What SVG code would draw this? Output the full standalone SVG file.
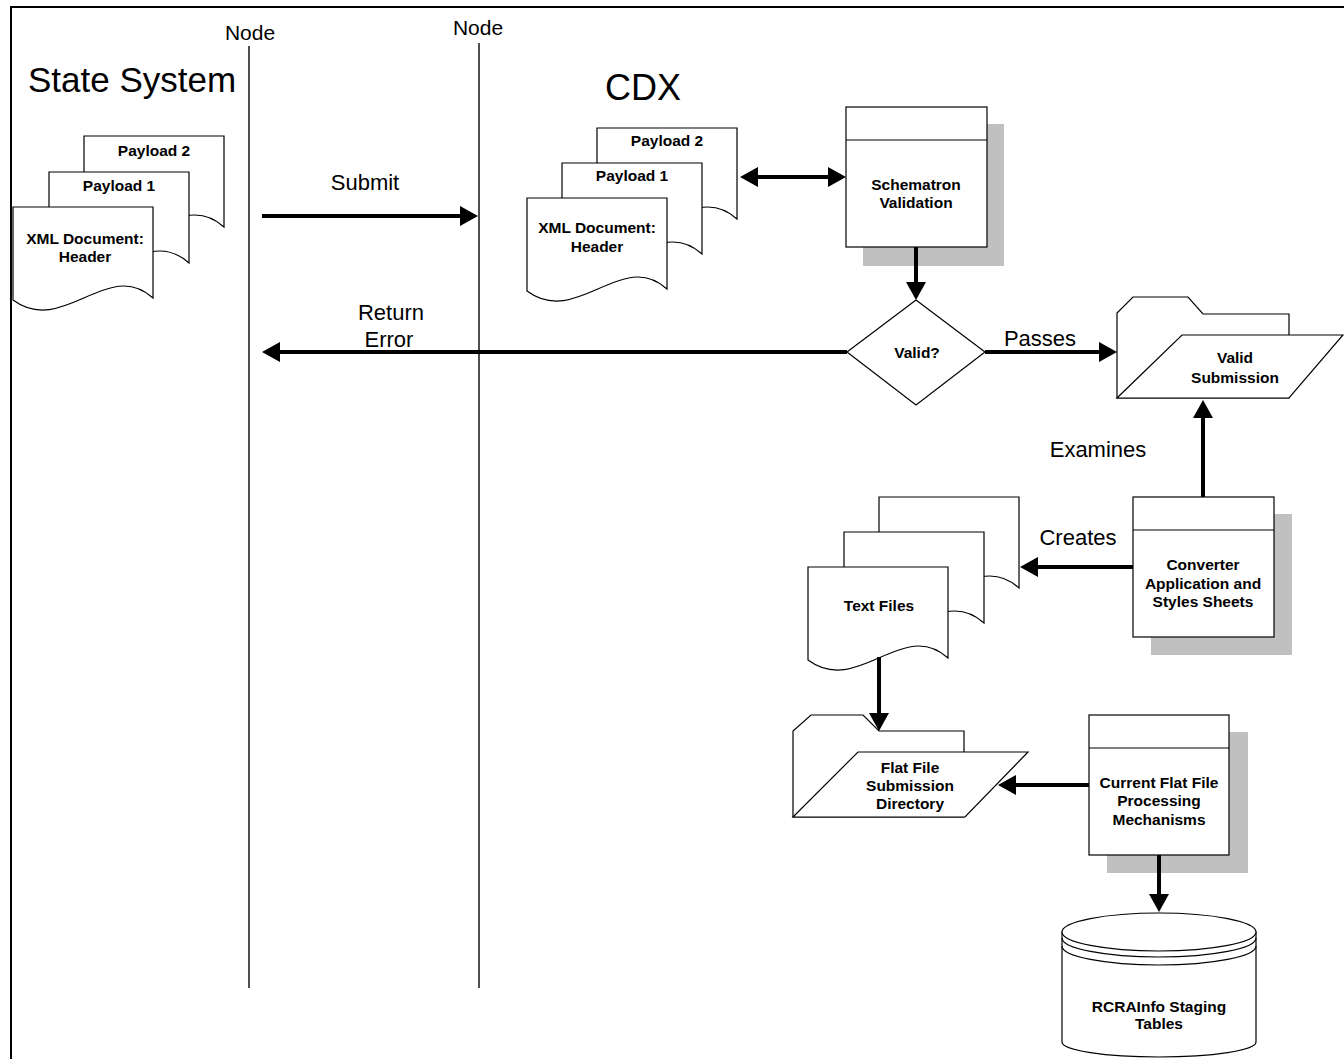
<svg xmlns="http://www.w3.org/2000/svg" xmlns:xlink="http://www.w3.org/1999/xlink" width="1344" height="1059" viewBox="0 0 1344 1059">
<style>
.shape{fill:#fff;stroke:#000;stroke-width:1.2}
.shadow{fill:#c0c0c0}
.conn{stroke:#000;stroke-width:4;fill:none}
.lane{stroke:#222;stroke-width:1.6}
.lbl{font-family:"Liberation Sans",Arial,sans-serif;font-size:15.5px;font-weight:bold;text-anchor:middle;fill:#000}
.big{font-family:"Liberation Sans",Arial,sans-serif;font-size:22px;text-anchor:middle;fill:#000}
.title{font-family:"Liberation Sans",Arial,sans-serif;font-size:35px;fill:#000}
</style>
<defs>
<marker id="arr" markerUnits="userSpaceOnUse" markerWidth="18" markerHeight="20" refX="2" refY="10" orient="auto-start-reverse">
<path d="M0,0 L18,10 L0,20 Z" fill="#000"/>
</marker>
<path id="doc" d="M0,0 H140 V91 C95,50 50,130 0,93 Z"/>
</defs>
<rect x="11" y="7" width="1345" height="1070" fill="#fff" stroke="#000" stroke-width="2"/>

<g id="lanes">
<line class="lane" x1="249" y1="46" x2="249" y2="988"/>
<line class="lane" x1="479" y1="43" x2="479" y2="988"/>
<text class="big" x="250" y="40" style="font-size:21px">Node</text>
<text class="big" x="478" y="35" style="font-size:21px">Node</text>
<text class="title" x="28" y="92">State System</text>
<text class="title" x="643" y="100" style="text-anchor:middle;font-size:36px">CDX</text>
</g>

<g id="state-docs">
<use href="#doc" class="shape" x="84" y="136"/>
<use href="#doc" class="shape" x="49" y="172"/>
<use href="#doc" class="shape" x="13" y="207"/>
<text class="lbl" x="154" y="156">Payload 2</text>
<text class="lbl" x="119" y="191">Payload 1</text>
<text class="lbl" x="85" y="244">XML Document:</text>
<text class="lbl" x="85" y="262">Header</text>
</g>

<g id="cdx-docs">
<use href="#doc" class="shape" x="597" y="128"/>
<use href="#doc" class="shape" x="562" y="163"/>
<use href="#doc" class="shape" x="527" y="198"/>
<text class="lbl" x="667" y="146">Payload 2</text>
<text class="lbl" x="632" y="181">Payload 1</text>
<text class="lbl" x="597" y="233">XML Document:</text>
<text class="lbl" x="597" y="252">Header</text>
</g>

<g id="schematron">
<rect class="shadow" x="863" y="124" width="141" height="142"/>
<rect class="shape" x="846" y="107" width="141" height="140"/>
<line class="shape" x1="846" y1="140" x2="987" y2="140"/>
<text class="lbl" x="916" y="190">Schematron</text>
<text class="lbl" x="916" y="208">Validation</text>
</g>

<g id="valid-decision">
<path class="shape" d="M916,300 L985,352 L916,405 L847,352 Z"/>
<text class="lbl" x="917" y="358">Valid?</text>
</g>

<g id="valid-submission">
<path class="shape" d="M1117,398 V313 L1133,297 H1188 L1203,314 H1289 V398 Z"/>
<path class="shape" d="M1182,335 H1343 L1289,398 H1117 Z"/>
<text class="lbl" x="1235" y="363">Valid</text>
<text class="lbl" x="1235" y="383">Submission</text>
</g>

<g id="converter">
<rect class="shadow" x="1151" y="514" width="141" height="141"/>
<rect class="shape" x="1133" y="497" width="141" height="140"/>
<line class="shape" x1="1133" y1="530" x2="1274" y2="530"/>
<text class="lbl" x="1203" y="570">Converter</text>
<text class="lbl" x="1203" y="589">Application and</text>
<text class="lbl" x="1203" y="607">Styles Sheets</text>
</g>

<g id="text-files">
<use href="#doc" class="shape" x="879" y="497"/>
<use href="#doc" class="shape" x="844" y="532"/>
<use href="#doc" class="shape" x="808" y="567"/>
<text class="lbl" x="879" y="611">Text Files</text>
</g>

<g id="flat-file-dir">
<path class="shape" d="M793,817 V731 L811,715 H863 L879,731 H964 V817 Z"/>
<path class="shape" d="M858,752 H1028 L965,817 H793 Z"/>
<text class="lbl" x="910" y="773">Flat File</text>
<text class="lbl" x="910" y="791">Submission</text>
<text class="lbl" x="910" y="809">Directory</text>
</g>

<g id="flat-file-proc">
<rect class="shadow" x="1107" y="732" width="141" height="141"/>
<rect class="shape" x="1089" y="715" width="140" height="140"/>
<line class="shape" x1="1089" y1="748" x2="1229" y2="748"/>
<text class="lbl" x="1159" y="788">Current Flat File</text>
<text class="lbl" x="1159" y="806">Processing</text>
<text class="lbl" x="1159" y="825">Mechanisms</text>
</g>

<g id="staging-tables">
<path class="shape" d="M1062,932 V1042 A97,15 0 0 0 1256,1042 V932 Z"/>
<ellipse class="shape" cx="1159" cy="932" rx="97" ry="19"/>
<path class="shape" style="fill:none" d="M1062,938 A97,19 0 0 0 1256,938"/>
<path class="shape" style="fill:none" d="M1062,946 A97,19 0 0 0 1256,946"/>
<text class="lbl" x="1159" y="1012">RCRAInfo Staging</text>
<text class="lbl" x="1159" y="1029">Tables</text>
</g>

<g id="connectors">
<line class="conn" x1="262" y1="216" x2="462" y2="216" marker-end="url(#arr)"/>
<text class="big" x="365" y="190">Submit</text>
<line class="conn" x1="756" y1="177" x2="830" y2="177" marker-start="url(#arr)" marker-end="url(#arr)"/>
<line class="conn" x1="916" y1="247" x2="916" y2="284" marker-end="url(#arr)"/>
<line class="conn" x1="847" y1="352" x2="278" y2="352" marker-end="url(#arr)"/>
<text class="big" x="391" y="320">Return</text>
<text class="big" x="389" y="347">Error</text>
<line class="conn" x1="985" y1="352" x2="1101" y2="352" marker-end="url(#arr)"/>
<text class="big" x="1040" y="346">Passes</text>
<line class="conn" x1="1203" y1="497" x2="1203" y2="416" marker-end="url(#arr)"/>
<text class="big" x="1098" y="457">Examines</text>
<line class="conn" x1="1133" y1="567" x2="1036" y2="567" marker-end="url(#arr)"/>
<text class="big" x="1078" y="545">Creates</text>
<line class="conn" x1="879" y1="657" x2="879" y2="715" marker-end="url(#arr)"/>
<line class="conn" x1="1089" y1="785" x2="1014" y2="785" marker-end="url(#arr)"/>
<line class="conn" x1="1159" y1="855" x2="1159" y2="896" marker-end="url(#arr)"/>
</g>
</svg>
